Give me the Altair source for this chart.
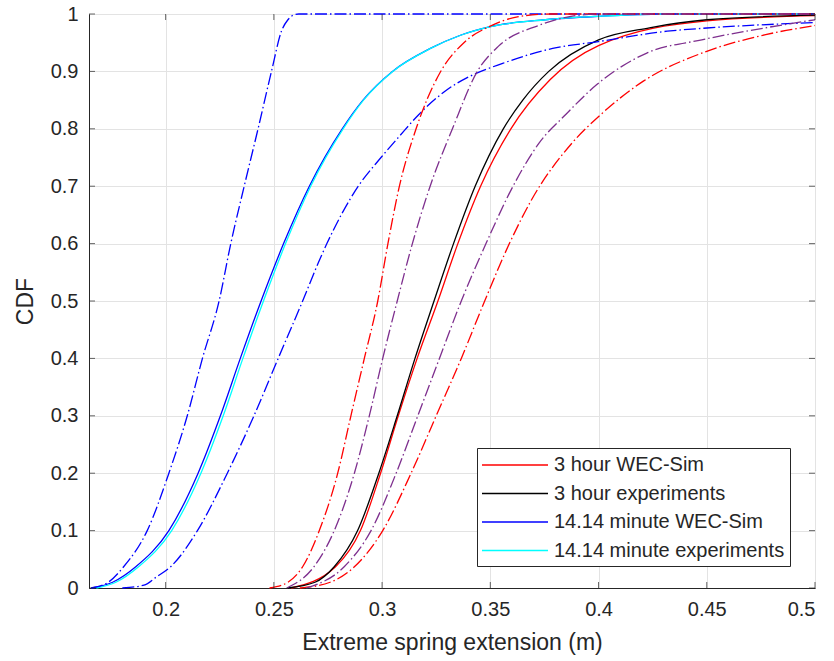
import altair as alt
import pandas as pd

# ---------------- data ----------------
x_ticks = [0.2, 0.25, 0.3, 0.35, 0.4, 0.45, 0.5]
y_ticks = [0, 0.1, 0.2, 0.3, 0.4, 0.5, 0.6, 0.7, 0.8, 0.9, 1.0]

legend_names = ["3 hour WEC-Sim", "3 hour experiments",
                "14.14 minute WEC-Sim", "14.14 minute experiments"]
legend_colors = ["#FF0000", "#000000", "#0000FF", "#00FFFF"]

# 3 hour WEC-Sim (red solid)
red_x = [0.2580, 0.2785, 0.2900, 0.2993, 0.3075, 0.3162, 0.3258, 0.3350, 0.3455, 0.3595, 0.3777, 0.4000, 0.4500, 0.5000]
red_y = [0.0, 0.037, 0.1, 0.2, 0.3, 0.4, 0.5, 0.6, 0.7, 0.8, 0.886, 0.945, 0.988, 0.997]
# 3 hour experiments (black solid)
blk_x = [0.2560, 0.2690, 0.2779, 0.2887, 0.2985, 0.3070, 0.3152, 0.3240, 0.3330, 0.3430, 0.3560, 0.3650, 0.3770, 0.4000, 0.4235, 0.4500, 0.5000]
blk_y = [0.0, 0.01, 0.037, 0.1, 0.2, 0.3, 0.4, 0.5, 0.6, 0.7, 0.8, 0.85, 0.9, 0.955, 0.976, 0.99, 0.998]
# 14.14 minute WEC-Sim (blue solid)
blu_x = [0.1660, 0.1755, 0.1862, 0.2015, 0.2150, 0.2253, 0.2345, 0.2441, 0.2545, 0.2664, 0.2816, 0.2912, 0.3048, 0.3223, 0.3362, 0.3500, 0.3754, 0.4000, 0.4300, 0.5000]
blu_y = [0.0, 0.01, 0.037, 0.1, 0.2, 0.3, 0.4, 0.5, 0.6, 0.7, 0.8, 0.85, 0.9, 0.94, 0.963, 0.978, 0.99, 0.996, 1.0, 1.0]
# 14.14 minute experiments (cyan solid)
cyn_x = [0.1680, 0.1770, 0.1875, 0.2028, 0.2163, 0.2266, 0.2357, 0.2452, 0.2554, 0.2670, 0.2820, 0.2914, 0.3049, 0.3224, 0.3363, 0.3501, 0.3755, 0.4000, 0.4300, 0.5000]
cyn_y = [0.0, 0.01, 0.037, 0.1, 0.2, 0.3, 0.4, 0.5, 0.6, 0.7, 0.8, 0.85, 0.9, 0.94, 0.963, 0.978, 0.99, 0.996, 1.0, 1.0]

# bounds (dash-dot)
bl_lo_x = [0.1655, 0.1735, 0.1806, 0.1915, 0.2015, 0.2100, 0.2170, 0.2247, 0.2301, 0.2363, 0.2427, 0.2489, 0.2535, 0.2565, 0.2590, 0.2615, 0.5000]
bl_lo_y = [0.0, 0.01, 0.037, 0.1, 0.2, 0.3, 0.4, 0.5, 0.6, 0.7, 0.8, 0.9, 0.97, 0.99, 0.998, 1.0, 1.0]
bl_hi_x = [0.1800, 0.1900, 0.1960, 0.2023, 0.2147, 0.2285, 0.2408, 0.2520, 0.2633, 0.2715, 0.2745, 0.2890, 0.2995, 0.3080, 0.3170, 0.3300, 0.3403, 0.3557, 0.3788, 0.4000, 0.4317, 0.4500, 0.5000]
bl_hi_y = [0.0, 0.005, 0.02, 0.037, 0.1, 0.2, 0.3, 0.4, 0.5, 0.575, 0.6, 0.7, 0.75, 0.787, 0.825, 0.868, 0.891, 0.914, 0.94, 0.952, 0.97, 0.9756, 0.985]
rd_lo_x = [0.2480, 0.2565, 0.2633, 0.2710, 0.2795, 0.2856, 0.2918, 0.2980, 0.3027, 0.3080, 0.3157, 0.3268, 0.3378, 0.3500, 0.3625, 0.3780, 0.5000]
rd_lo_y = [0.0, 0.01, 0.037, 0.1, 0.2, 0.3, 0.4, 0.5, 0.6, 0.7, 0.8, 0.898, 0.95, 0.979, 0.995, 1.0, 1.0]
rd_hi_x = [0.2620, 0.2760, 0.2872, 0.3003, 0.3134, 0.3250, 0.3366, 0.3474, 0.3588, 0.3690, 0.3877, 0.4008, 0.4207, 0.4500, 0.4772, 0.5000]
rd_hi_y = [0.0, 0.01, 0.037, 0.1, 0.2, 0.3, 0.4, 0.5, 0.6, 0.676, 0.775, 0.824, 0.883, 0.935, 0.964, 0.98]
pp_lo_x = [0.2560, 0.2685, 0.2779, 0.2872, 0.2941, 0.3003, 0.3070, 0.3140, 0.3222, 0.3325, 0.3440, 0.3538, 0.3723, 0.4000, 0.5000]
pp_lo_y = [0.0, 0.037, 0.1, 0.2, 0.3, 0.4, 0.5, 0.6, 0.7, 0.8, 0.9, 0.944, 0.98, 1.0, 1.0]
pp_hi_x = [0.2650, 0.2825, 0.2949, 0.3065, 0.3165, 0.3265, 0.3366, 0.3480, 0.3605, 0.3725, 0.3846, 0.3992, 0.4223, 0.4477, 0.4772, 0.5000]
pp_hi_y = [0.0, 0.037, 0.1, 0.2, 0.3, 0.4, 0.5, 0.6, 0.7, 0.775, 0.824, 0.877, 0.932, 0.955, 0.976, 0.99]

# ---------------- build ----------------
X_DOMAIN = [0.1646, 0.5]
W, H = 726, 574
FONT = "Liberation Sans"
TXT = "#262626"
LW = 1.3
DASH = [12, 3, 1.5, 3]

xs = alt.Scale(domain=X_DOMAIN, nice=False, zero=False)
ys = alt.Scale(domain=[0, 1], nice=False)

solid_rows = []
for name, xv, yv in zip(legend_names, [red_x, blk_x, blu_x, cyn_x], [red_y, blk_y, blu_y, cyn_y]):
    for a, b in zip(xv, yv):
        solid_rows.append({"x": a, "y": b, "series": name})
solid_df = pd.DataFrame(solid_rows)

x_enc = alt.X("x:Q", scale=xs,
              axis=alt.Axis(values=x_ticks, format="~g", title="Extreme spring extension (m)",
                            ticks=False, labelPadding=11, titlePadding=12, grid=True))
y_enc = alt.Y("y:Q", scale=ys,
              axis=alt.Axis(values=y_ticks, format="~g", title="CDF",
                            ticks=False, labelPadding=11, titlePadding=13, grid=True))

def dashed(xv, yv, color):
    df = pd.DataFrame({"x": xv, "y": yv})
    return alt.Chart(df).mark_line(color=color, strokeWidth=LW, interpolate="monotone",
                                   strokeDash=DASH).encode(x=x_enc, y=y_enc)

solid = alt.Chart(solid_df).mark_line(strokeWidth=LW, interpolate="monotone").encode(
    x=x_enc, y=y_enc,
    color=alt.Color("series:N",
                    scale=alt.Scale(domain=legend_names, range=legend_colors),
                    sort=legend_names,
                    legend=alt.Legend(title=None, orient="none", legendX=388, legendY=434,
                                      symbolType="M-3,0H3", symbolSize=484, symbolStrokeWidth=LW,
                                      symbolOffset=21, labelOffset=27,
                                      labelFontSize=20, labelFont=FONT, labelColor=TXT,
                                      rowPadding=6.5, padding=5,
                                      strokeColor=TXT, fillColor="white", labelLimit=400)),
    order=alt.Order("x:Q"),
)

tick_x = pd.DataFrame({"x": x_ticks})
tick_y = pd.DataFrame({"y": y_ticks})
tk_bottom = alt.Chart(tick_x).mark_tick(color=TXT, thickness=1, size=6, orient="vertical").encode(
    x=alt.X("x:Q", scale=xs), y=alt.value(H - 3))
tk_top = alt.Chart(tick_x).mark_tick(color=TXT, thickness=1, size=6, orient="vertical").encode(
    x=alt.X("x:Q", scale=xs), y=alt.value(3))
tk_left = alt.Chart(tick_y).mark_tick(color=TXT, thickness=1, size=6, orient="horizontal").encode(
    y=alt.Y("y:Q", scale=ys), x=alt.value(3))
tk_right = alt.Chart(tick_y).mark_tick(color=TXT, thickness=1, size=6, orient="horizontal").encode(
    y=alt.Y("y:Q", scale=ys), x=alt.value(W - 3))

chart = alt.layer(
    solid,
    dashed(bl_lo_x, bl_lo_y, "#0000FF"),
    dashed(bl_hi_x, bl_hi_y, "#0000FF"),
    dashed(rd_lo_x, rd_lo_y, "#FF0000"),
    dashed(rd_hi_x, rd_hi_y, "#FF0000"),
    dashed(pp_lo_x, pp_lo_y, "#7E2F8E"),
    dashed(pp_hi_x, pp_hi_y, "#7E2F8E"),
    tk_bottom, tk_top, tk_left, tk_right,
).properties(
    width=W, height=H,
    background="white",
    autosize=alt.AutoSizeParams(type="none"),
    padding={"left": 89, "top": 14, "right": 19, "bottom": 73},
).configure_view(
    stroke=TXT, strokeWidth=1
).configure_axis(
    labelFont=FONT, titleFont=FONT, labelFontSize=20, titleFontSize=23,
    labelColor=TXT, titleColor=TXT, titleFontWeight="normal",
    domainColor=TXT, gridColor="#e3e3e3", gridWidth=1,
)

chart.save("out.html", embed_options={"renderer": "svg", "actions": False})
